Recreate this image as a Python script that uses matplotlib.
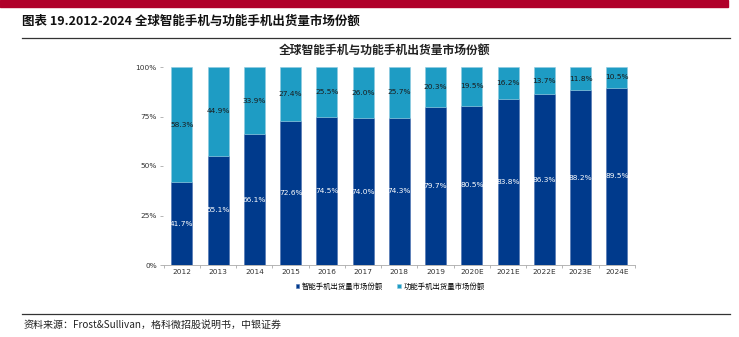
import matplotlib
matplotlib.use("Agg")
import matplotlib.pyplot as plt
from matplotlib.lines import Line2D
from matplotlib.patches import Rectangle

plt.rcParams['font.family'] = ['Noto Sans CJK SC', 'DejaVu Sans']

years = ['2012', '2013', '2014', '2015', '2016', '2017', '2018', '2019',
         '2020E', '2021E', '2022E', '2023E', '2024E']
smart = [41.7, 55.1, 66.1, 72.6, 74.5, 74.0, 74.3, 79.7, 80.5, 83.8, 86.3, 88.2, 89.5]
feature = [58.3, 44.9, 33.9, 27.4, 25.5, 26.0, 25.7, 20.3, 19.5, 16.2, 13.7, 11.8, 10.5]
series_names = ['智能手机出货量市场份额', '功能手机出货量市场份额']
yticks = [0, 25, 50, 75, 100]

dark = '#003A8C'
light = '#1E9CC4'

W, H = 739, 337
fig = plt.figure(figsize=(W / 100, H / 100), dpi=100)

# Header decorations
fig.patches.append(Rectangle((0, 1 - 7 / H), 728 / W, 7 / H, transform=fig.transFigure,
                             color='#B0002A', zorder=0))
fig.text(22 / W, 1 - 21 / H, '图表 19.2012-2024 全球智能手机与功能手机出货量市场份额',
         fontsize=9, fontweight='bold', va='center', ha='left', color='#111111')
fig.add_artist(Line2D([22 / W, 730 / W], [1 - 37.5 / H] * 2, transform=fig.transFigure,
                      color='#333333', lw=0.9))
fig.add_artist(Line2D([22 / W, 730 / W], [1 - 314 / H] * 2, transform=fig.transFigure,
                      color='#333333', lw=0.9))
fig.text(24 / W, 1 - 325 / H, '资料来源：Frost&Sullivan，格科微招股说明书，中银证券',
         fontsize=7.2, style='italic', va='center', ha='left', color='#222222')

ax = fig.add_axes([163 / W, 1 - 265 / H, (635 - 163) / W, (265 - 67) / H])
x = list(range(len(years)))
bw = 0.58
b1 = ax.bar(x, smart, width=bw, color=dark, edgecolor='#4A70B0', linewidth=0.4,
            label=series_names[0], zorder=2)
b2 = ax.bar(x, feature, width=bw, bottom=smart, color=light, edgecolor='#8FCBE0',
            linewidth=0.4, label=series_names[1], zorder=2)

for i in x:
    ax.text(i, smart[i] / 2, f'{smart[i]:.1f}%', ha='center', va='center',
            fontsize=5.3, color='white', family='DejaVu Sans')
    ax.text(i, smart[i] + feature[i] / 2, f'{feature[i]:.1f}%', ha='center', va='center',
            fontsize=5.3, color='#1a1a1a', family='DejaVu Sans')

ax.set_xlim(-0.52, len(years) - 0.5)
ax.set_ylim(0, 100)
ax.set_yticks(yticks)
ax.set_yticklabels([f'{v}%' for v in yticks], fontsize=5.3, color='#333333',
                   family='DejaVu Sans')
ax.set_xticks(x)
ax.set_xticklabels(years, fontsize=5.3, color='#333333', family='DejaVu Sans')
ax.tick_params(axis='x', length=0, pad=3)
ax.tick_params(axis='y', length=2.5, width=0.5, color='#999999', pad=2)
ax.set_xticks([i + 0.5 for i in range(-1, len(years))], minor=True)
ax.tick_params(axis='x', which='minor', length=2.5, width=0.5, color='#999999')
for s in ['top', 'right', 'left']:
    ax.spines[s].set_visible(False)
ax.spines['bottom'].set_color('#AAAAAA')
ax.spines['bottom'].set_linewidth(0.6)

fig.text(385 / W, 1 - 50 / H, '全球智能手机与功能手机出货量市场份额', fontsize=8.5,
         fontweight='bold', ha='center', va='center', color='#222222')

leg = fig.legend(handles=[b1, b2], labels=series_names, loc='center',
                 bbox_to_anchor=(390 / W, 1 - 287 / H), ncol=2, frameon=False,
                 fontsize=5.3, handlelength=0.5, handleheight=0.5, handletextpad=0.3,
                 columnspacing=2.0)

fig.savefig('out.png', dpi=100)
